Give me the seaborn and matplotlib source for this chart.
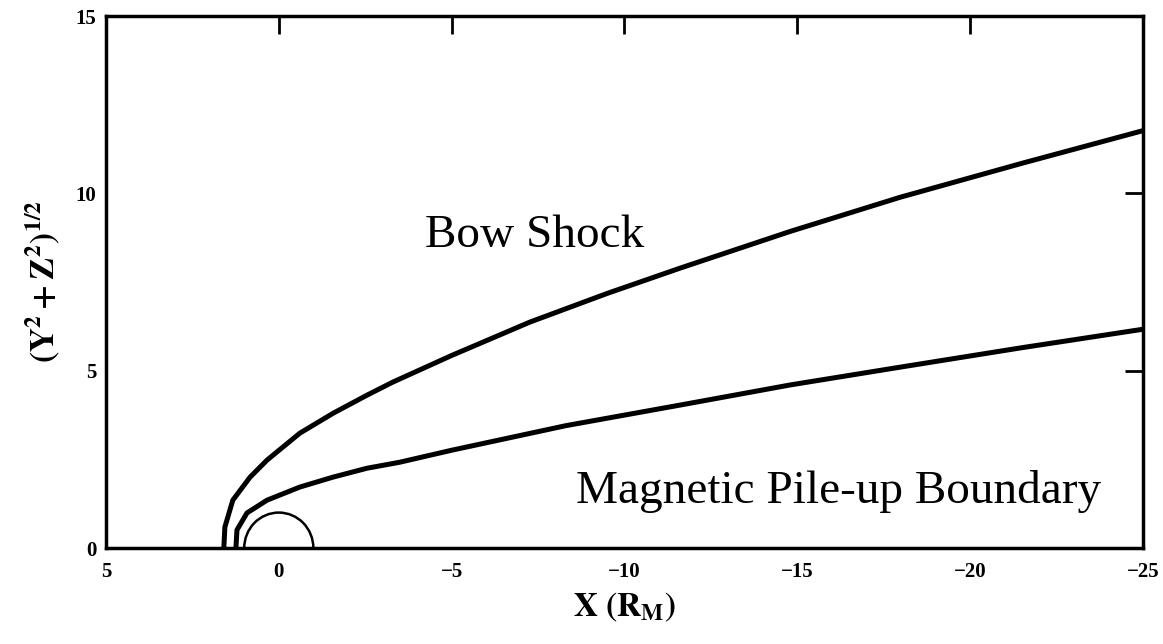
import matplotlib
matplotlib.use("Agg")
import matplotlib.pyplot as plt
from matplotlib.patches import Arc
import seaborn as sns

# values (x in R_M, y = sqrt(Y^2 + Z^2))
bow_x = [1.59, 1.56, 1.33, 0.83, 0.34, -0.61, -1.57, -2.55, -3.30, -5.0, -7.26,
         -9.5, -11.6, -14.8, -17.97, -21.5, -25.0]
bow_y = [0.0, 0.59, 1.35, 2.0, 2.48, 3.24, 3.80, 4.31, 4.68, 5.43, 6.37,
         7.18, 7.89, 8.93, 9.89, 10.85, 11.77]

mpb_x = [1.24, 1.21, 0.92, 0.34, -0.61, -1.57, -2.55, -3.50, -5.01, -8.3,
         -11.6, -14.8, -17.97, -21.5, -25.0]
mpb_y = [0.0, 0.51, 0.99, 1.35, 1.72, 2.0, 2.25, 2.42, 2.76, 3.45,
         4.03, 4.60, 5.10, 5.65, 6.17]

planet_radius = 1.0

x_ticks = [5, 0, -5, -10, -15, -20, -25]
y_ticks = [0, 5, 10, 15]

sns.set_theme(style="white")
plt.rcParams["font.family"] = ["Liberation Serif", "DejaVu Serif"]
plt.rcParams["mathtext.fontset"] = "stix"
plt.rcParams["text.color"] = "black"
plt.rcParams["axes.labelcolor"] = "black"
plt.rcParams["xtick.color"] = "black"
plt.rcParams["ytick.color"] = "black"

fig = plt.figure(figsize=(11.63, 6.44), dpi=100)
ax = fig.add_axes([0.0911, 0.149, 0.8917, 0.826])

sns.lineplot(x=bow_x, y=bow_y, sort=False, estimator=None, color="black",
             linewidth=3.6, ax=ax)
sns.lineplot(x=mpb_x, y=mpb_y, sort=False, estimator=None, color="black",
             linewidth=3.6, ax=ax)

# the planet
ax.add_patch(Arc((0, 0), 2 * planet_radius, 2 * planet_radius, theta1=0, theta2=180,
                 color="black", linewidth=1.8))

ax.set_xlim(5, -25)
ax.set_ylim(0, 15)
ax.set_xticks(x_ticks)
ax.set_xticklabels([str(t).replace("-", "\u2212") for t in x_ticks])
ax.set_yticks(y_ticks)
ax.set_yticklabels([str(t) for t in y_ticks])

for sp in ax.spines.values():
    sp.set_color("black")
    sp.set_linewidth(2.5)

ax.tick_params(direction="in", length=13, width=2, color="black",
               top=True, right=True, labeltop=False, labelright=False)
ax.tick_params(axis="x", pad=10)
ax.tick_params(axis="y", pad=7)
for lab in ax.get_xticklabels() + ax.get_yticklabels():
    lab.set_fontsize(15)
    lab.set_fontweight("bold")
    lab.set_color("black")

ax.set_xlabel(r"$\mathbf{X\ (R_M)}$", fontsize=24, labelpad=6, color="black")
ax.set_ylabel(r"$\mathbf{(Y^2 + Z^2)^{1/2}}$", fontsize=24, labelpad=10, color="black")

ax.text(-7.4, 8.8, "Bow Shock", fontsize=34, ha="center", va="center", color="black")
ax.text(-16.2, 1.6, "Magnetic Pile-up Boundary", fontsize=34, ha="center",
        va="center", color="black")

fig.savefig("out.png", dpi=100)
